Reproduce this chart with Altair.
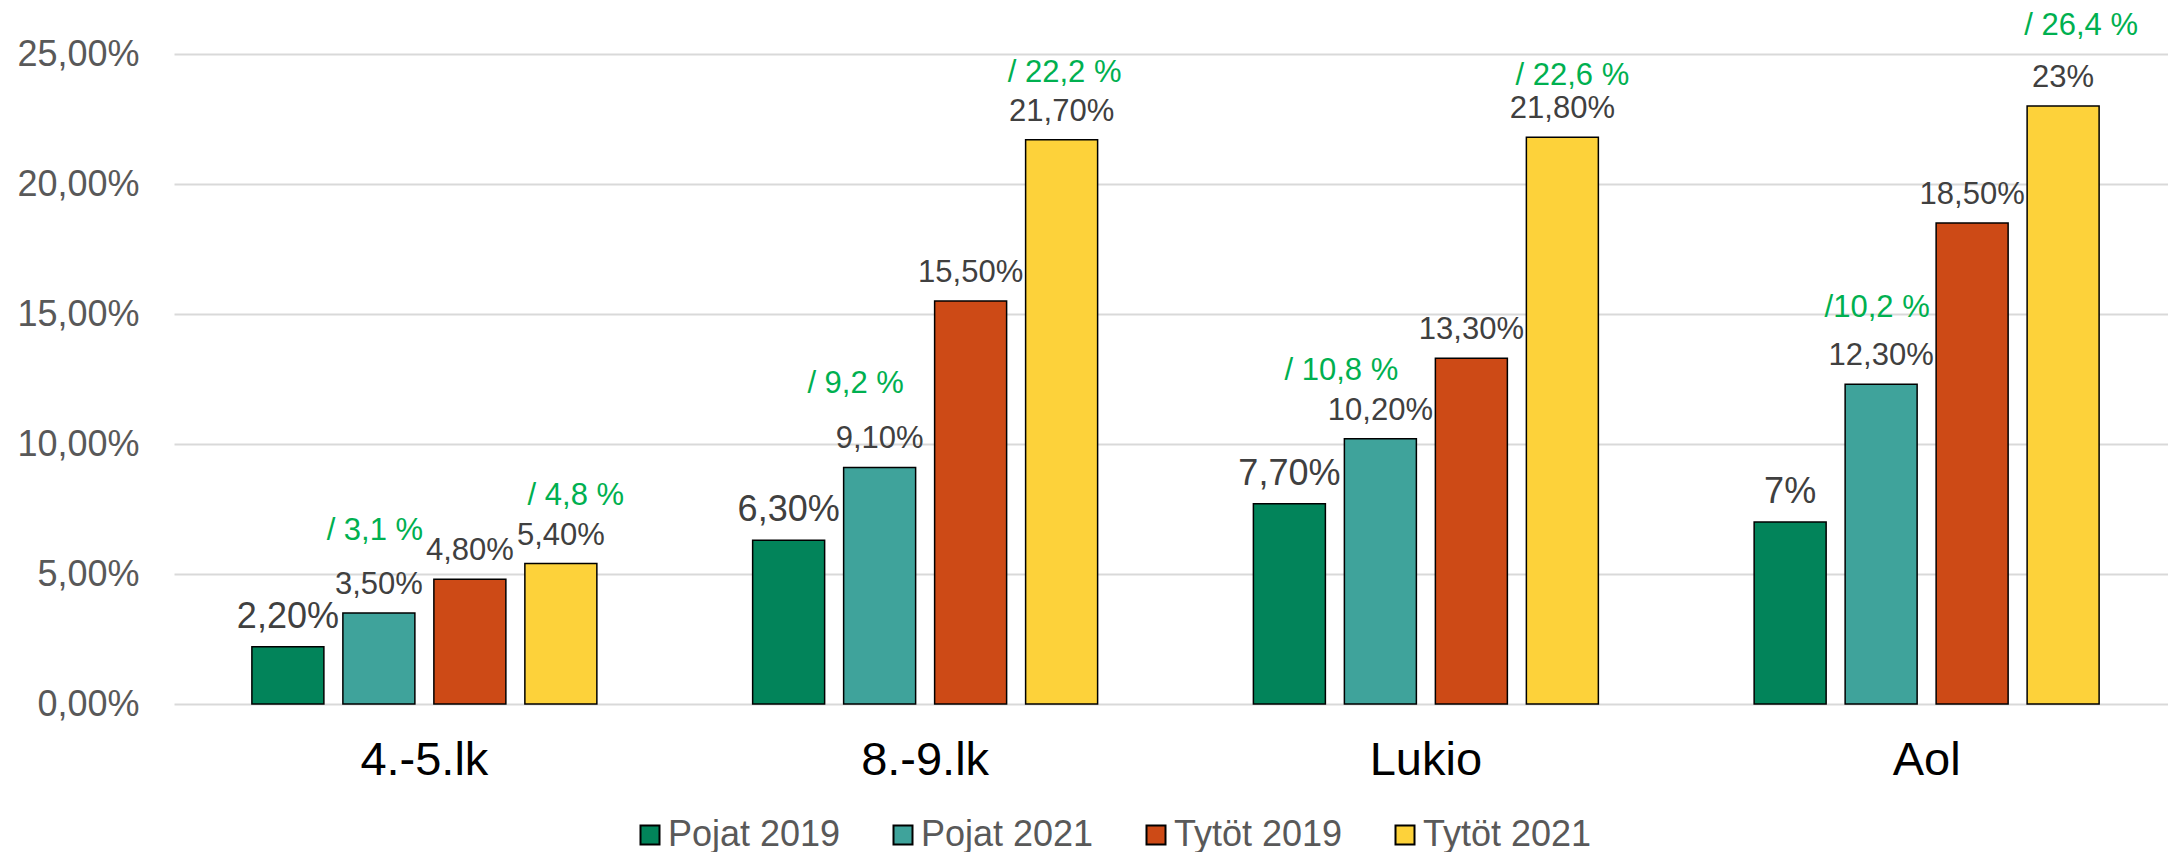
import altair as alt
import pandas as pd

FONT = "Liberation Sans"

categories = ["4.-5.lk", "8.-9.lk", "Lukio", "Aol"]
series = ["Pojat 2019", "Pojat 2021", "Tytöt 2019", "Tytöt 2021"]
colors = ["#02845A", "#3FA39B", "#CD4A16", "#FDD23A"]

pojat_2019 = [2.2, 6.3, 7.7, 7.0]
pojat_2021 = [3.5, 9.1, 10.2, 12.3]
tytot_2019 = [4.8, 15.5, 13.3, 18.5]
tytot_2021 = [5.4, 21.7, 21.8, 23.0]

labels_p19 = ["2,20%", "6,30%", "7,70%", "7%"]
labels_p21 = ["3,50%", "9,10%", "10,20%", "12,30%"]
labels_t19 = ["4,80%", "15,50%", "13,30%", "18,50%"]
labels_t21 = ["5,40%", "21,70%", "21,80%", "23%"]

extra_p21 = ["/ 3,1 %", "/ 9,2 %", "/ 10,8 %", "/10,2 %"]
extra_t21 = ["/ 4,8 %", "/ 22,2 %", "/ 22,6 %", "/ 26,4 %"]

y_ticks = [0, 5, 10, 15, 20, 25]

rows = []
blank = ["", "", "", ""]
for s, vals, labs, ext in [
    ("Pojat 2019", pojat_2019, labels_p19, blank),
    ("Pojat 2021", pojat_2021, labels_p21, extra_p21),
    ("Tytöt 2019", tytot_2019, labels_t19, blank),
    ("Tytöt 2021", tytot_2021, labels_t21, extra_t21),
]:
    for c, v, l, e in zip(categories, vals, labs, ext):
        rows.append({"category": c, "series": s, "value": v, "label": l, "extra": e})
df = pd.DataFrame(rows)

# hand placement nudges of the green annotation boxes (dx, dy in px)
green_nudge_p21 = [(-4, -73), (-24, -74), (-39, -59), (-4, -67)]
green_nudge_t21 = [(15, -59), (3, -58), (10, -52), (18, -71)]

x_enc = alt.X(
    "category:N",
    sort=categories,
    scale=alt.Scale(paddingInner=0, paddingOuter=0, range=[0, 2003]),
    axis=alt.Axis(
        title=None, labelAngle=0, labelFontSize=47, labelColor="black",
        labelFont=FONT, ticks=False, domain=False, labelPadding=56,
        labelBaseline="middle", grid=False,
    ),
)
xoff_enc = alt.XOffset(
    "series:N", sort=series,
    scale=alt.Scale(paddingInner=0.2088, paddingOuter=0.856),
)
y_scale = alt.Scale(domain=[0, 25], nice=False)

base = alt.Chart(df).encode(x=x_enc, xOffset=xoff_enc)

bars = base.mark_bar(stroke="black", strokeWidth=1.5).encode(
    y=alt.Y(
        "value:Q", scale=y_scale,
        axis=alt.Axis(
            title=None, values=y_ticks,
            labelExpr="replace(format(datum.value, '.2f'), '.', ',') + '%'",
            labelFontSize=36, labelColor="#595959", labelFont=FONT,
            ticks=False, domain=False, labelPadding=35, grid=True,
            gridColor="#D9D9D9", gridWidth=2,
        ),
    ),
    color=alt.Color(
        "series:N", sort=series,
        scale=alt.Scale(domain=series, range=colors),
        legend=alt.Legend(
            title=None, orient="none", legendX=458, legendY=763,
            direction="horizontal", symbolType="square", symbolSize=361,
            symbolStrokeColor="black", symbolStrokeWidth=2, symbolOpacity=1,
            labelFontSize=36, labelColor="#595959", labelFont=FONT,
            labelLimit=400, columnPadding=44, labelOffset=0, padding=0,
            gridAlign="none",
        ),
    ),
)

value_text = base.mark_text(
    baseline="alphabetic", dy=-19, color="#404040", font=FONT
).encode(
    y=alt.Y("value:Q", scale=y_scale),
    text="label:N",
    size=alt.condition("datum.series == 'Pojat 2019'", alt.value(36), alt.value(31)),
)

layers = [bars, value_text]
for s, nudges in [("Pojat 2021", green_nudge_p21), ("Tytöt 2021", green_nudge_t21)]:
    for c, (ddx, ddy) in zip(categories, nudges):
        layers.append(
            base.transform_filter(
                f"datum.series == '{s}' && datum.category == '{c}'"
            ).mark_text(
                baseline="alphabetic", dx=ddx, dy=ddy, color="#00B050",
                font=FONT, fontSize=31,
            ).encode(
                y=alt.Y("value:Q", scale=y_scale),
                text="extra:N",
            )
        )

chart = (
    alt.layer(*layers)
    .properties(
        width=1994, height=650, autosize="none",
        padding={"left": 166, "top": 46, "right": 0, "bottom": 150},
    )
    .configure_view(stroke=None)
)

chart.save("out.html", embed_options={"renderer": "svg", "actions": False})
